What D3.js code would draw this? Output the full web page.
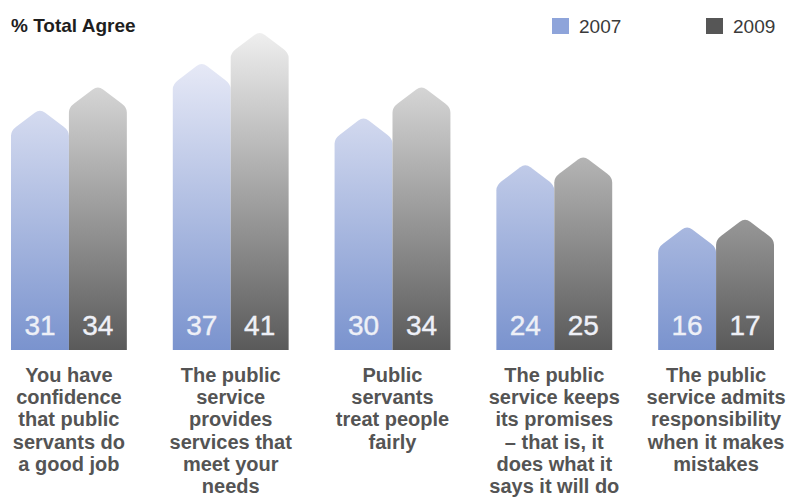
<!DOCTYPE html>
<html>
<head>
<meta charset="utf-8">
<script src="https://cdn.jsdelivr.net/npm/d3@7"></script>
<style>
  body { margin: 0; background: #fff; }
  svg { display: block; font-family: "Liberation Sans", Arial, Helvetica, sans-serif; }
</style>
</head>
<body>
<div id="chart"></div>
<script>
// data
var categories = ["c1", "c2", "c3", "c4", "c5"];
var catLabels = [
    ["You have", "confidence", "that public", "servants do", "a good job"],
    ["The public", "service", "provides", "services that", "meet your", "needs"],
    ["Public", "servants", "treat people", "fairly"],
    ["The public", "service keeps", "its promises", "\u2013 that is, it", "does what it", "says it will do"],
    ["The public", "service admits", "responsibility", "when it makes", "mistakes"]
];
var series = ["2007", "2009"];
var values2007 = [31, 37, 30, 24, 16];
var values2009 = [34, 41, 34, 25, 17];
var title = "% Total Agree";

var width = 791, height = 502;

var svg = d3.select('#chart').append('svg')
    .attr('width', width)
    .attr('height', height);

var defs = svg.append('defs');
function grad(id, top, bottom){
    var g = defs.append('linearGradient')
        .attr('id', id)
        .attr('gradientUnits', 'userSpaceOnUse')
        .attr('x1', 0).attr('x2', 0)
        .attr('y1', 30).attr('y2', 350);
    g.append('stop').attr('offset', '0%').attr('stop-color', top);
    g.append('stop').attr('offset', '100%').attr('stop-color', bottom);
}
grad('g2007', '#f3f3fb', '#7a93ce');
grad('g2009', '#f0f0f0', '#5a5a5a');

var x = d3.scaleBand().domain(categories).range([11, 774]).paddingInner(0.284).paddingOuter(0);
var xs = d3.scaleBand().domain(series).range([0, x.bandwidth()]);
var y = d3.scaleLinear().domain([0, 41]).range([350, 31]);

// house-shaped bar: pointed, slightly rounded top
function housePath(x0, x1, yTop, yb){
    var h = 22, xc = (x0 + x1) / 2, ys = yTop + h;
    var t1 = 0.18, t2 = 0.82;
    var p = d3.path();
    p.moveTo(x0, yb);
    p.lineTo(x0, ys + 5);
    p.quadraticCurveTo(x0, ys, x0 + t1 * (xc - x0), ys - t1 * h);
    p.lineTo(x0 + t2 * (xc - x0), ys - t2 * h);
    p.quadraticCurveTo(xc, yTop, x1 - t2 * (x1 - xc), ys - t2 * h);
    p.lineTo(x1 - t1 * (x1 - xc), ys - t1 * h);
    p.quadraticCurveTo(x1, ys, x1, ys + 5);
    p.lineTo(x1, yb);
    p.closePath();
    return p.toString();
}

var rows = categories.map(function(c, i){
    return {cat: c, vals: [
        {s: "2007", v: values2007[i]},
        {s: "2009", v: values2009[i]}
    ], lines: catLabels[i]};
});

var groups = svg.selectAll('g.grp')
    .data(rows)
    .enter()
    .append('g')
    .classed('grp', true)
    .attr('transform', function(d){ return 'translate(' + x(d.cat) + ',0)'; });

groups.selectAll('path')
    .data(function(d){ return d.vals; })
    .enter()
    .append('path')
    .attr('d', function(d){
        return housePath(xs(d.s), xs(d.s) + xs.bandwidth(), y(d.v), y(0));
    })
    .attr('fill', function(d){ return 'url(#g' + d.s + ')'; });

groups.selectAll('text.val')
    .data(function(d){ return d.vals; })
    .enter()
    .append('text')
    .classed('val', true)
    .attr('x', function(d){ return xs(d.s) + xs.bandwidth() / 2; })
    .attr('y', y(0) - 15)
    .attr('text-anchor', 'middle')
    .style('font-size', '28px')
    .style('fill', '#eef0f7')
    .style('stroke', '#eef0f7')
    .style('stroke-width', '0.4px')
    .text(function(d){ return d.v; });

groups.append('text')
    .attr('text-anchor', 'middle')
    .style('font-size', '20px')
    .style('font-weight', 'bold')
    .style('fill', '#545454')
    .selectAll('tspan')
    .data(function(d){ return d.lines; })
    .enter()
    .append('tspan')
    .attr('x', x.bandwidth() / 2)
    .attr('y', function(d, i){ return 382 + i * 22.2; })
    .text(function(d){ return d; });

// title
svg.append('text')
    .attr('x', 11).attr('y', 32)
    .style('font-size', '19px')
    .style('font-weight', 'bold')
    .style('fill', '#1e1e1e')
    .text(title);

// legend
var legColors = {"2007": "#8ea4da", "2009": "#565656"};
var legX = d3.scaleOrdinal().domain(series).range([552, 706]);
var leg = svg.selectAll('g.leg')
    .data(series)
    .enter()
    .append('g')
    .classed('leg', true)
    .attr('transform', function(d){ return 'translate(' + legX(d) + ',0)'; });
leg.append('rect')
    .attr('x', 0).attr('y', 18)
    .attr('width', 17).attr('height', 16)
    .attr('fill', function(d){ return legColors[d]; });
leg.append('text')
    .attr('x', 27).attr('y', 33)
    .style('font-size', '19px')
    .style('fill', '#3a3a3a')
    .text(function(d){ return d; });
</script>
</body>
</html>
